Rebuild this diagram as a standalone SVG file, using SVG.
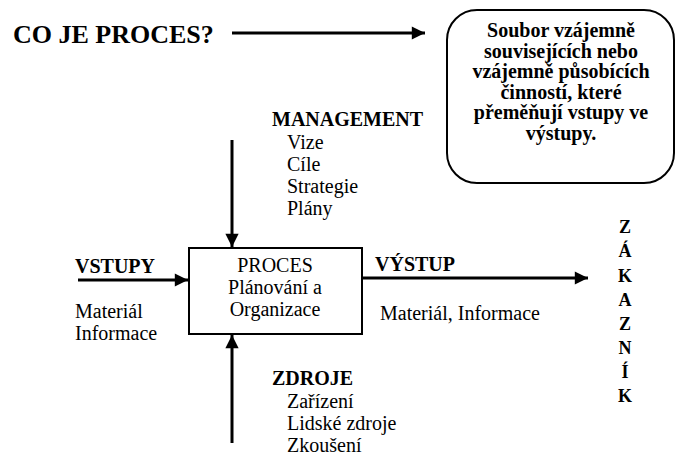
<svg xmlns="http://www.w3.org/2000/svg" width="675" height="459" viewBox="0 0 675 459" font-family="'Liberation Serif', 'Times New Roman', serif">
  <style>
    text { font-family: 'Liberation Serif', 'Times New Roman', serif; fill: #000; }
    .b { font-weight: bold; }
    .lbl { font-size: 20px; }
    .def { font-size: 20px; font-weight: bold; text-anchor: middle; }
    .cust { font-size: 18px; font-weight: bold; text-anchor: middle; }
    .edge { stroke: #000; stroke-width: 3; fill: none; }
    .frame { stroke: #000; stroke-width: 2; fill: #fff; }
  </style>
  <defs>
    <marker id="head" viewBox="0 0 10 10" refX="10" refY="5" markerWidth="5" markerHeight="4.4" markerUnits="strokeWidth" orient="auto">
      <path d="M0,0 L10,5 L0,10 z" fill="#000"/>
    </marker>
  </defs>

  <!-- title -->
  <g id="title">
    <text x="13" y="43" class="b" style="font-size:26px">CO JE PROCES?</text>
  </g>

  <!-- definition box -->
  <g id="definition">
    <rect x="447" y="10" width="227" height="173" rx="30" ry="30" class="frame"/>
    <text class="def" x="561" y="37">Soubor vzájemně</text>
    <text class="def" x="561" y="58">souvisejících nebo</text>
    <text class="def" x="561" y="78">vzájemně působících</text>
    <text class="def" x="561" y="99">činností, které</text>
    <text class="def" x="561" y="119">přeměňují vstupy ve</text>
    <text class="def" x="561" y="140">výstupy.</text>
  </g>

  <!-- process box -->
  <g id="process">
    <rect x="189" y="248" width="173" height="86" class="frame"/>
    <text class="lbl" x="275" y="272" text-anchor="middle">PROCES</text>
    <text class="lbl" x="275" y="294" text-anchor="middle">Plánování a</text>
    <text class="lbl" x="275" y="316" text-anchor="middle">Organizace</text>
  </g>

  <!-- management -->
  <g id="management">
    <text class="lbl b" x="272" y="126">MANAGEMENT</text>
    <text class="lbl" x="287" y="149">Vize</text>
    <text class="lbl" x="287" y="171">Cíle</text>
    <text class="lbl" x="287" y="193">Strategie</text>
    <text class="lbl" x="287" y="215">Plány</text>
  </g>

  <!-- inputs -->
  <g id="inputs">
    <text class="lbl b" x="75" y="273">VSTUPY</text>
    <text class="lbl" x="75" y="318">Materiál</text>
    <text class="lbl" x="75" y="340">Informace</text>
  </g>

  <!-- output -->
  <g id="output">
    <text class="lbl b" x="375" y="271">VÝSTUP</text>
    <text class="lbl" x="380" y="320">Materiál, Informace</text>
  </g>

  <!-- resources -->
  <g id="resources">
    <text class="lbl b" x="272" y="385">ZDROJE</text>
    <text class="lbl" x="287" y="408">Zařízení</text>
    <text class="lbl" x="287" y="430">Lidské zdroje</text>
    <text class="lbl" x="287" y="452">Zkoušení</text>
  </g>

  <!-- customer -->
  <g id="customer">
    <text class="cust" x="625" y="233">Z</text>
    <text class="cust" x="625" y="257">Á</text>
    <text class="cust" x="625" y="282">K</text>
    <text class="cust" x="625" y="306">A</text>
    <text class="cust" x="625" y="330">Z</text>
    <text class="cust" x="625" y="354">N</text>
    <text class="cust" x="625" y="378">Í</text>
    <text class="cust" x="625" y="402">K</text>
  </g>

  <!-- connectors -->
  <g id="connectors">
    <line class="edge" x1="232" y1="33" x2="425" y2="33" marker-end="url(#head)"/>
    <line class="edge" x1="232" y1="140" x2="232" y2="247" marker-end="url(#head)"/>
    <line class="edge" x1="78" y1="280" x2="188" y2="280" marker-end="url(#head)"/>
    <line class="edge" x1="362" y1="278" x2="588" y2="278" marker-end="url(#head)"/>
    <line class="edge" x1="232" y1="443" x2="232" y2="335" marker-end="url(#head)"/>
  </g>
</svg>
